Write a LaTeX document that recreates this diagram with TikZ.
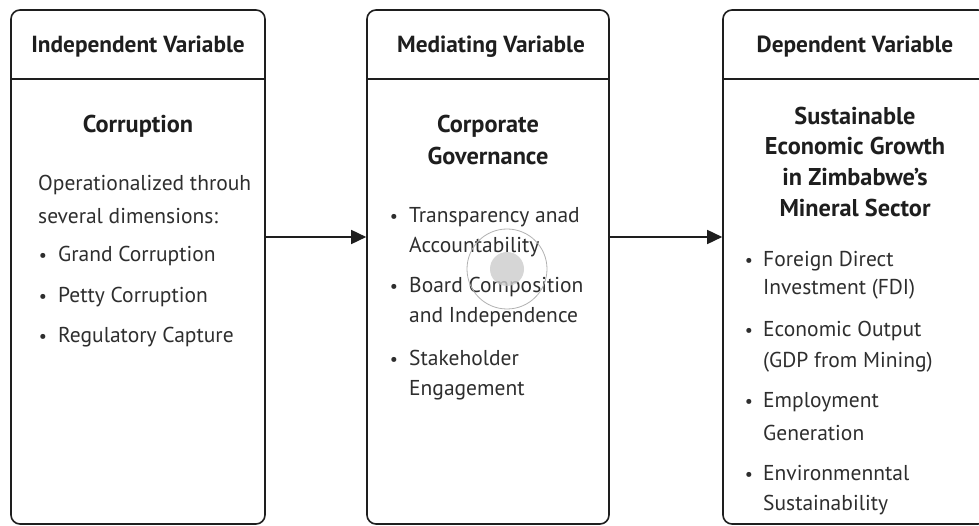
\documentclass[tikz,border=0pt]{standalone}
\usepackage{fontspec}
\setmainfont{PT Sans}
\usetikzlibrary{arrows.meta}
\definecolor{ink}{HTML}{1E1E1E}
\definecolor{txt}{HTML}{2E2E2E}
\tikzset{
  box/.style={draw=ink, line width=1.6pt, rounded corners=9pt},
  hdr/.style={font=\bfseries\fontsize{23.3}{26}\selectfont, text=ink, anchor=base, inner sep=0pt},
  ttl/.style={font=\bfseries\fontsize{24.3}{27}\selectfont, text=ink, anchor=base, inner sep=0pt},
  bod/.style={font=\fontsize{21.5}{25}\selectfont, text=txt, anchor=base west, inner sep=0pt},
  bul/.style={font=\fontsize{18}{25}\selectfont, text=txt, anchor=base, inner sep=0pt},
  sep/.style={draw=ink, line width=1.4pt},
  conn/.style={draw=ink, line width=1.6pt, -{Triangle[length=15pt,width=14pt]}},
}
\begin{document}
\begin{tikzpicture}[x=1pt,y=-1pt]
\useasboundingbox (0,0) rectangle (979,526);
\clip (0,0) rectangle (979,526);
\fill[white] (0,0) rectangle (979,526);
% boxes
\node[box, minimum width=254pt, minimum height=514pt, inner sep=0pt] (b1) at (138,267) {};
\node[box, minimum width=242pt, minimum height=514pt, inner sep=0pt] (b2) at (488,267) {};
\node[box, minimum width=264pt, minimum height=514pt, inner sep=0pt] (b3) at (855,267) {};
% header separators
\coordinate (h) at (0,79);
\draw[sep] (b1.west |- h) -- (b1.east |- h);
\draw[sep] (b2.west |- h) -- (b2.east |- h);
\draw[sep] (b3.west |- h) -- (b3.east |- h);
% connectors
\coordinate (a) at (0,237);
\draw[conn] (b1.east |- a) -- (b2.west |- a);
\draw[conn] (b2.east |- a) -- (b3.west |- a);
% box 1
\node[hdr] (h1) at (138,53) {Independent Variable};
\node[ttl] (t1) at (138,133) {Corruption};
\node[bod] (o1) at (38,191) {Operationalized throuh};
\node[bod] (o2) at (38,224) {several dimensions:};
\node[bul] (p1) at (43,262) {•};
\node[bod] (q1) at (58,262) {Grand Corruption};
\node[bul] (p2) at (43,302) {•};
\node[bod] (q2) at (58,302) {Petty Corruption};
\node[bul] (p3) at (43,342) {•};
\node[bod] (q3) at (58,342) {Regulatory Capture};
% box 2
\node[hdr] (h2) at (491,53) {Mediating Variable};
\node[ttl] (t2a) at (488,133) {Corporate};
\node[ttl] (t2b) at (488,165) {Governance};
\node[bul] (r1) at (394,223) {•};
\node[bod] (s1a) at (409,223) {Transparency anad};
\node[bod] (s1b) at (409,253) {Accountability};
\node[bul] (r2) at (394,293) {•};
\node[bod] (s2a) at (409,293) {Board Composition};
\node[bod] (s2b) at (409,323) {and Independence};
\node[bul] (r3) at (394,365) {•};
\node[bod] (s3a) at (409,365) {Stakeholder};
\node[bod] (s3b) at (409,395) {Engagement};
% box 3
\node[hdr] (h3) at (855,53) {Dependent Variable};
\node[ttl] (t3a) at (855,125) {Sustainable};
\node[ttl] (t3b) at (855,155) {Economic Growth};
\node[ttl] (t3c) at (855,186) {in Zimbabwe’s};
\node[ttl] (t3d) at (855,217) {Mineral Sector};
\node[bul] (u1) at (749,267) {•};
\node[bod] (v1a) at (763,267) {Foreign Direct};
\node[bod] (v1b) at (763,295) {Investment (FDI)};
\node[bul] (u2) at (749,337) {•};
\node[bod] (v2a) at (763,337) {Economic Output};
\node[bod] (v2b) at (763,367) {(GDP from Mining)};
\node[bul] (u3) at (749,407) {•};
\node[bod] (v3a) at (763,407) {Employment};
\node[bod] (v3b) at (763,440) {Generation};
\node[bul] (u4) at (749,480) {•};
\node[bod] (v4a) at (763,480) {Environmenntal};
\node[bod] (v4b) at (763,510) {Sustainability};
% touch indicator
\node[circle, draw=gray!60, line width=0.8pt, minimum size=80pt, inner sep=0pt] (ring) at (507,269) {};
\node[circle, fill=gray!40, fill opacity=0.8, minimum size=34pt, inner sep=0pt] (dot) at (ring.center) {};
\end{tikzpicture}
\end{document}
